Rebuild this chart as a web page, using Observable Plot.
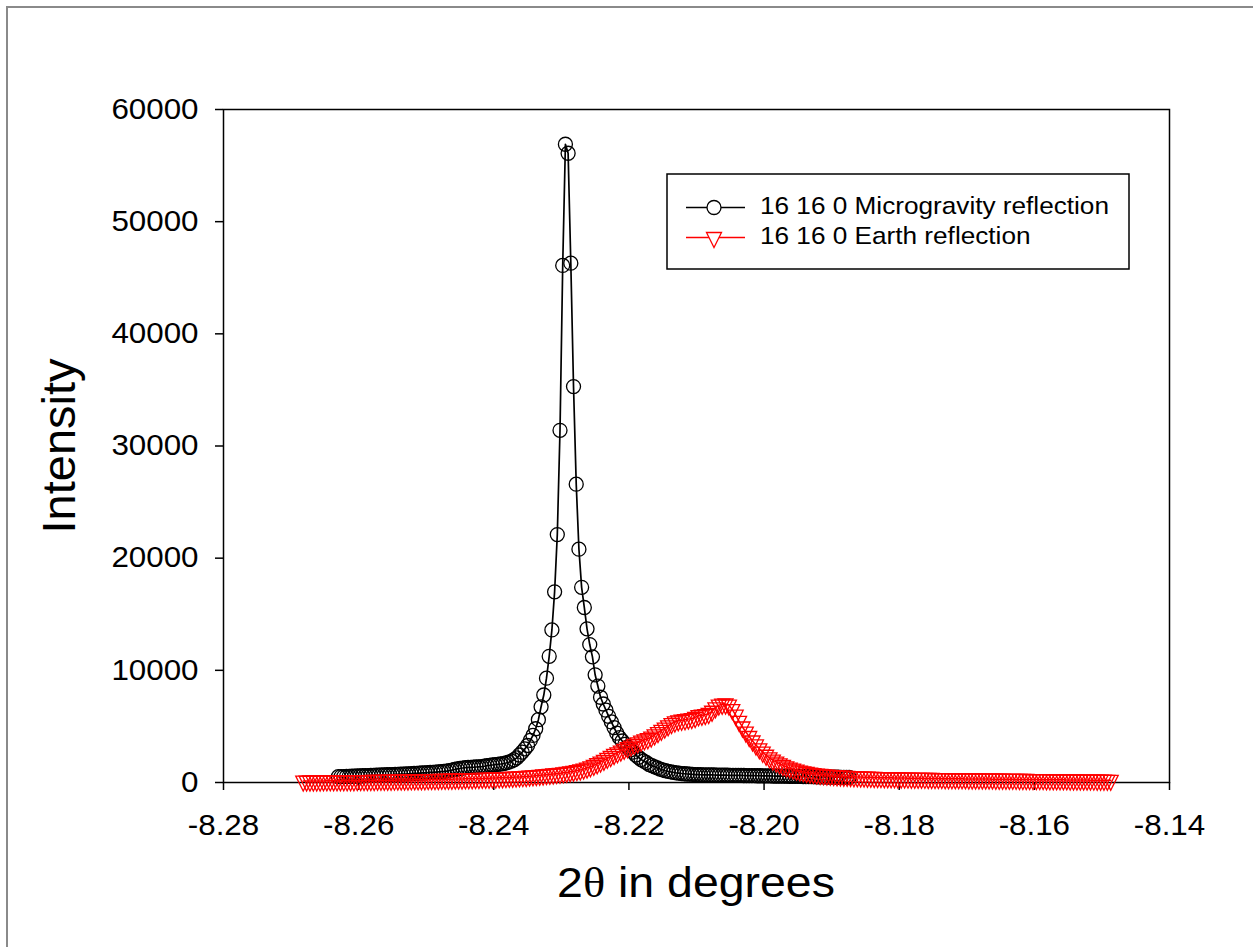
<!DOCTYPE html>
<html>
<head>
<meta charset="utf-8">
<script src="https://cdn.jsdelivr.net/npm/d3@7"></script>
<script src="https://cdn.jsdelivr.net/npm/@observablehq/plot@0.6"></script>
<style>
  body { margin: 0; background: white; }
  #wrap { position: relative; width: 1253px; height: 947px; overflow: hidden; background: white; }
  #wrap > svg { position: absolute; left: 0; top: 0; }
</style>
</head>
<body>
<div id="wrap"></div>
<script>
// ---------- data ----------
const seriesNames = ["16 16 0 Microgravity reflection", "16 16 0 Earth reflection"];
const xTicks = [-8.28, -8.26, -8.24, -8.22, -8.20, -8.18, -8.16, -8.14];
const yTicks = [0, 10000, 20000, 30000, 40000, 50000, 60000];
const xTitleParts = ["2", "θ", " in degrees"];
const yTitle = "Intensity";

const microX = [
-8.2630,-8.2626,-8.2622,-8.2618,-8.2614,-8.2610,-8.2606,-8.2602,-8.2598,-8.2594,
-8.2590,-8.2586,-8.2582,-8.2578,-8.2574,-8.2570,-8.2566,-8.2562,-8.2558,-8.2554,
-8.2550,-8.2546,-8.2542,-8.2538,-8.2534,-8.2530,-8.2526,-8.2522,-8.2518,-8.2514,
-8.2510,-8.2506,-8.2502,-8.2498,-8.2494,-8.2490,-8.2486,-8.2482,-8.2478,-8.2474,
-8.2470,-8.2466,-8.2462,-8.2458,-8.2454,-8.2450,-8.2446,-8.2442,-8.2438,-8.2434,
-8.2430,-8.2426,-8.2422,-8.2418,-8.2414,-8.2410,-8.2406,-8.2402,-8.2398,-8.2394,
-8.2390,-8.2386,-8.2382,-8.2378,-8.2374,-8.2370,-8.2366,-8.2362,-8.2358,-8.2354,
-8.2350,-8.2346,-8.2342,-8.2338,-8.2334,-8.2330,-8.2326,-8.2322,-8.2318,-8.2314,
-8.2310,-8.2306,-8.2302,-8.2298,-8.2294,-8.2290,-8.2286,-8.2282,-8.2278,-8.2274,
-8.2270,-8.2266,-8.2262,-8.2258,-8.2254,-8.2250,-8.2246,-8.2242,-8.2238,-8.2234,
-8.2230,-8.2226,-8.2222,-8.2218,-8.2214,-8.2210,-8.2206,-8.2202,-8.2198,-8.2194,
-8.2190,-8.2186,-8.2182,-8.2178,-8.2174,-8.2170,-8.2166,-8.2162,-8.2158,-8.2154,
-8.2150,-8.2146,-8.2142,-8.2138,-8.2134,-8.2130,-8.2126,-8.2122,-8.2118,-8.2114,
-8.2110,-8.2106,-8.2102,-8.2098,-8.2094,-8.2090,-8.2086,-8.2082,-8.2078,-8.2074,
-8.2070,-8.2066,-8.2062,-8.2058,-8.2054,-8.2050,-8.2046,-8.2042,-8.2038,-8.2034,
-8.2030,-8.2026,-8.2022,-8.2018,-8.2014,-8.2010,-8.2006,-8.2002,-8.1998,-8.1994,
-8.1990,-8.1986,-8.1982,-8.1978,-8.1974,-8.1970,-8.1966,-8.1962,-8.1958,-8.1954,
-8.1950,-8.1946,-8.1942,-8.1938,-8.1934,-8.1930,-8.1926,-8.1922,-8.1918,-8.1914,
-8.1910,-8.1906,-8.1902,-8.1898,-8.1894,-8.1890,-8.1886,-8.1882,-8.1878,-8.1874
];
const microY = [
520,525,530,540,550,560,570,580,590,600,
610,620,630,640,650,660,670,680,690,700,
710,720,730,740,750,760,775,790,805,820,
835,850,865,880,895,910,930,950,970,990,
1020,1060,1110,1160,1210,1250,1290,1320,1340,1350,
1360,1380,1400,1420,1450,1500,1530,1560,1590,1620,
1650,1690,1740,1810,1900,2030,2200,2450,2700,3000,
3300,3750,4200,4790,5600,6750,7800,9300,11250,13600,
17000,22100,31400,46100,56900,56100,46300,35300,26600,20800,
17400,15600,13700,12300,11200,9600,8600,7600,7000,6450,
5900,5400,4900,4400,4000,3700,3400,3150,2900,2700,
2450,2250,2050,1900,1780,1600,1500,1400,1300,1200,
1120,1050,990,940,900,860,830,800,780,760,
740,725,710,700,690,685,680,676,672,668,
664,660,656,652,648,644,640,636,632,628,
624,620,616,612,608,604,600,596,592,588,
584,580,576,572,568,564,560,556,552,548,
544,540,535,530,525,520,515,510,505,500,
495,490,485,480,475,470,465,460,455,450
];

const earthX = [
-8.2682,-8.2677,-8.2672,-8.2667,-8.2662,-8.2657,-8.2652,-8.2647,-8.2642,-8.2637,
-8.2632,-8.2627,-8.2622,-8.2617,-8.2612,-8.2607,-8.2602,-8.2597,-8.2592,-8.2587,
-8.2582,-8.2577,-8.2572,-8.2567,-8.2562,-8.2557,-8.2552,-8.2547,-8.2542,-8.2537,
-8.2532,-8.2527,-8.2522,-8.2517,-8.2512,-8.2507,-8.2502,-8.2497,-8.2492,-8.2487,
-8.2482,-8.2477,-8.2472,-8.2467,-8.2462,-8.2457,-8.2452,-8.2447,-8.2442,-8.2437,
-8.2432,-8.2427,-8.2422,-8.2417,-8.2412,-8.2407,-8.2402,-8.2397,-8.2392,-8.2387,
-8.2382,-8.2377,-8.2372,-8.2367,-8.2362,-8.2357,-8.2352,-8.2347,-8.2342,-8.2337,
-8.2332,-8.2327,-8.2322,-8.2317,-8.2312,-8.2307,-8.2302,-8.2297,-8.2292,-8.2287,
-8.2282,-8.2277,-8.2272,-8.2267,-8.2262,-8.2257,-8.2252,-8.2247,-8.2242,-8.2237,
-8.2232,-8.2227,-8.2222,-8.2217,-8.2212,-8.2207,-8.2202,-8.2197,-8.2192,-8.2187,
-8.2182,-8.2177,-8.2172,-8.2167,-8.2162,-8.2157,-8.2152,-8.2147,-8.2142,-8.2137,
-8.2132,-8.2127,-8.2122,-8.2117,-8.2112,-8.2107,-8.2102,-8.2097,-8.2092,-8.2087,
-8.2082,-8.2077,-8.2072,-8.2067,-8.2062,-8.2057,-8.2052,-8.2047,-8.2042,-8.2037,
-8.2032,-8.2027,-8.2022,-8.2017,-8.2012,-8.2007,-8.2002,-8.1997,-8.1992,-8.1987,
-8.1982,-8.1977,-8.1972,-8.1967,-8.1962,-8.1957,-8.1952,-8.1947,-8.1942,-8.1937,
-8.1932,-8.1927,-8.1922,-8.1917,-8.1912,-8.1907,-8.1902,-8.1897,-8.1892,-8.1887,
-8.1882,-8.1877,-8.1872,-8.1867,-8.1862,-8.1857,-8.1852,-8.1847,-8.1842,-8.1837,
-8.1832,-8.1827,-8.1822,-8.1817,-8.1812,-8.1807,-8.1802,-8.1797,-8.1792,-8.1787,
-8.1782,-8.1777,-8.1772,-8.1767,-8.1762,-8.1757,-8.1752,-8.1747,-8.1742,-8.1737,
-8.1732,-8.1727,-8.1722,-8.1717,-8.1712,-8.1707,-8.1702,-8.1697,-8.1692,-8.1687,
-8.1682,-8.1677,-8.1672,-8.1667,-8.1662,-8.1657,-8.1652,-8.1647,-8.1642,-8.1637,
-8.1632,-8.1627,-8.1622,-8.1617,-8.1612,-8.1607,-8.1602,-8.1597,-8.1592,-8.1587,
-8.1582,-8.1577,-8.1572,-8.1567,-8.1562,-8.1557,-8.1552,-8.1547,-8.1542,-8.1537,
-8.1532,-8.1527,-8.1522,-8.1517,-8.1512,-8.1507,-8.1502,-8.1497,-8.1492,-8.1487
];
const earthY = [
130,130,135,135,140,140,142,145,145,148,
150,152,155,157,160,162,165,168,172,176,
180,184,188,192,196,200,204,208,212,216,
220,225,230,235,240,245,250,255,260,265,
270,276,282,288,295,302,310,318,326,333,
340,348,356,365,375,385,395,405,417,428,
440,455,470,485,500,520,540,565,590,615,
640,670,700,730,760,790,820,860,900,950,
1000,1060,1120,1200,1290,1400,1530,1670,1820,1980,
2150,2320,2500,2650,2800,2950,3100,3250,3400,3540,
3680,3800,3900,4050,4250,4450,4650,4850,5050,5250,
5400,5500,5550,5600,5650,5700,5800,5950,6000,6050,
6150,6350,6650,6900,6980,7000,6900,6500,6000,5450,
4950,4500,4100,3700,3350,3000,2700,2430,2200,2000,
1820,1660,1520,1400,1290,1190,1100,1020,950,890,
840,795,755,720,688,658,632,610,590,575,
560,545,530,515,500,488,478,468,458,448,
440,434,428,422,416,410,404,398,392,386,
380,376,372,368,364,360,356,352,348,344,
340,337,334,331,328,325,322,319,316,313,
310,307,304,301,298,295,292,289,286,283,
280,277,274,271,268,265,262,259,256,253,
250,247,244,241,238,235,232,229,226,223,
220,217,214,211,208,205,202,199,196,193
];

const micro = microX.map((x, i) => ({x, y: microY[i]}));
const earth = earthX.map((x, i) => ({x, y: earthY[i]}));

// ---------- styles ----------
const FONT = "'Liberation Sans', Arial, Helvetica, sans-serif";
const SERIF = "'Liberation Serif', 'DejaVu Serif', serif";
const SX = 1.08;        // horizontal text stretch of the reference
const microColor = "#000000";
const earthColor = "#ff0000";

// downward triangle, centred on its centroid
const triangleDown = {
  draw(ctx, size) {
    const r = Math.sqrt(size / Math.PI);
    const w = r, h = 2 * r;
    ctx.moveTo(-w, -h / 3);
    ctx.lineTo(w, -h / 3);
    ctx.lineTo(0, 2 * h / 3);
    ctx.closePath();
  }
};

const chart = Plot.plot({
  width: 1253,
  height: 947,
  marginLeft: 223,
  marginRight: 84,
  marginTop: 109,
  marginBottom: 165,
  style: {fontFamily: FONT, color: "black", background: "white", overflow: "visible"},
  x: {domain: [-8.28, -8.14]},
  y: {domain: [0, 60000]},
  marks: [
    Plot.frame({stroke: "black", strokeWidth: 1.5}),
    Plot.axisX(xTicks, {tickSize: 8, tickPadding: 24, fontSize: 29, strokeWidth: 1.5,
      tickFormat: d => d.toFixed(2), label: null}),
    Plot.axisY(yTicks, {tickSize: 8, tickPadding: 17, fontSize: 29, strokeWidth: 1.5,
      tickFormat: d => String(d), label: null}),
    Plot.line(micro, {x: "x", y: "y", stroke: microColor, strokeWidth: 1.7}),
    Plot.dot(micro, {x: "x", y: "y", r: 7, stroke: microColor, fill: "none", strokeWidth: 1.3}),
    Plot.line(earth, {x: "x", y: "y", stroke: earthColor, strokeWidth: 1.5}),
    Plot.dot(earth, {x: "x", y: "y", r: 7.5, symbol: triangleDown, stroke: earthColor, fill: "none", strokeWidth: 1.3})
  ]
});

// stretch tick labels horizontally around their anchor
chart.querySelectorAll("text").forEach(t => {
  const tr = t.getAttribute("transform") || "";
  const m = tr.match(/translate\(\s*([-\d.e]+)[ ,]\s*([-\d.e]+)\s*\)/);
  if (m) {
    const rest = tr.replace(m[0], "");
    t.setAttribute("transform", `translate(${m[1]},${m[2]}) scale(${SX},1)${rest}`);
  }
});

const wrap = document.getElementById("wrap");
wrap.appendChild(chart);

// ---------- overlay: page frame, axis titles, legend ----------
const NS = "http://www.w3.org/2000/svg";
const ov = document.createElementNS(NS, "svg");
ov.setAttribute("width", 1253);
ov.setAttribute("height", 947);
ov.style.fontFamily = FONT;
function el(name, attrs, text, parent) {
  const e = document.createElementNS(NS, name);
  for (const k in attrs) e.setAttribute(k, attrs[k]);
  if (text != null) e.textContent = text;
  (parent || ov).appendChild(e);
  return e;
}
// grey page border (top and left)
el("path", {d: "M7,947V7H1253", fill: "none", stroke: "#8a8a8a", "stroke-width": 2});
// axis titles
const xt = el("text", {x: 0, y: 0, "text-anchor": "middle", "font-size": 43,
  transform: `translate(696,897) scale(${SX},1)`});
el("tspan", {}, xTitleParts[0], xt);
el("tspan", {"font-family": SERIF}, xTitleParts[1], xt);
el("tspan", {}, xTitleParts[2], xt);
el("text", {x: 0, y: 0, "text-anchor": "middle", "font-size": 47,
  transform: `translate(75,446) rotate(-90)`}, yTitle);
// legend
el("rect", {x: 667, y: 174, width: 462, height: 95, fill: "white", stroke: "black", "stroke-width": 1.5});
el("line", {x1: 686, x2: 745, y1: 207.5, y2: 207.5, stroke: microColor, "stroke-width": 1.7});
el("circle", {cx: 714, cy: 207.5, r: 7, fill: "white", stroke: microColor, "stroke-width": 1.3});
el("line", {x1: 686, x2: 745, y1: 237.5, y2: 237.5, stroke: earthColor, "stroke-width": 1.5});
el("path", {d: "M706.5,232.5H721.5L714,247.5Z", fill: "white", stroke: earthColor, "stroke-width": 1.3});
el("text", {x: 0, y: 0, "font-size": 23.8, transform: `translate(760,213.5) scale(1.1,1)`}, seriesNames[0]);
el("text", {x: 0, y: 0, "font-size": 23.8, transform: `translate(760,244) scale(1.1,1)`}, seriesNames[1]);
wrap.appendChild(ov);
</script>
</body>
</html>
